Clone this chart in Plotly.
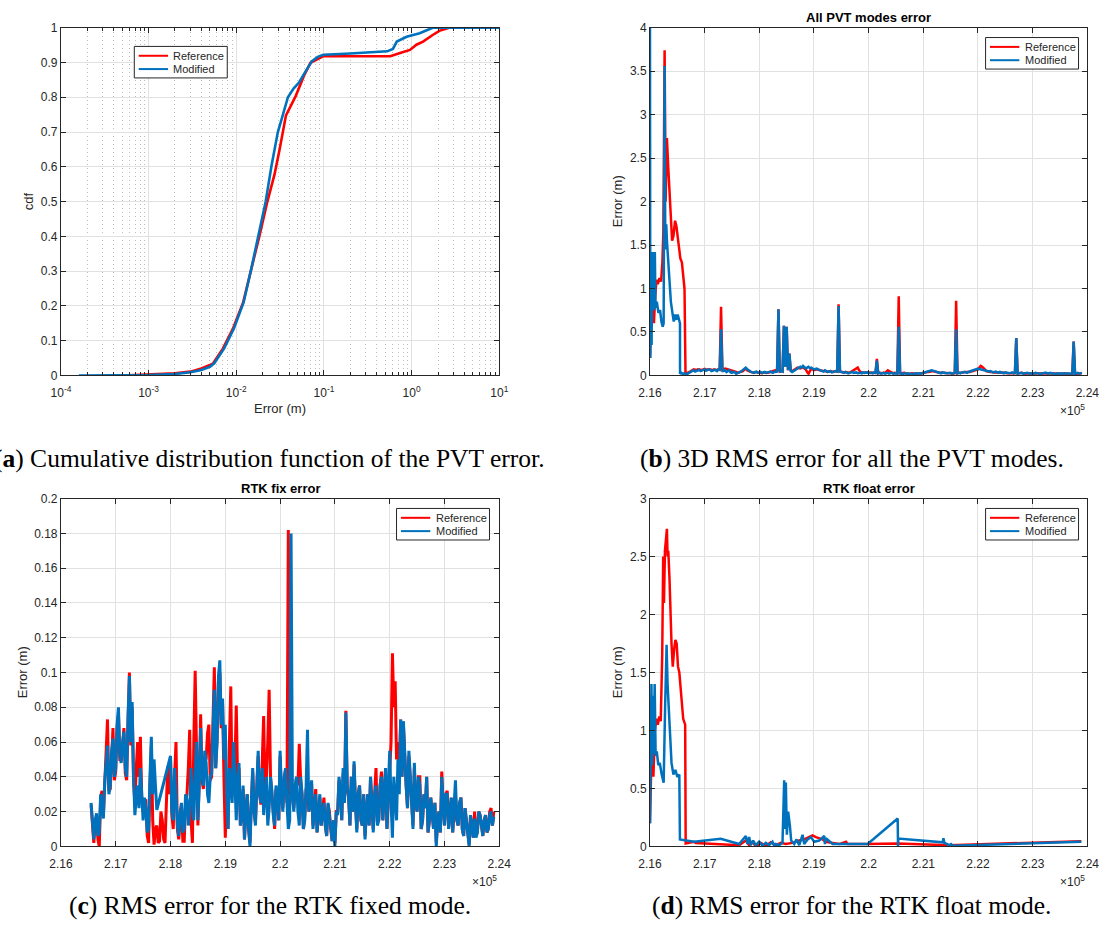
import plotly.graph_objects as go

# ------------------------------------------------------------------
# Data
# ------------------------------------------------------------------
# (a) empirical CDF of the PVT error (error in metres, cumulative probability)
cdf_ref_err = [5e-4, 1e-3, 2e-3, 3e-3, 4e-3, 5e-3, 0.00545, 0.00703, 0.00914, 0.01198,
               0.0147, 0.01833, 0.02264, 0.02731, 0.0312, 0.0369, 0.04775, 0.05904, 0.07015, 0.09865,
               0.2, 0.571, 0.739, 0.957, 1.136, 1.35, 1.74, 2.07, 2.68, 10]
cdf_ref_p = [0, 0.002, 0.006, 0.011, 0.02, 0.03, 0.035, 0.077, 0.134, 0.21,
             0.3, 0.4, 0.5, 0.578, 0.65, 0.748, 0.804, 0.861, 0.899, 0.918,
             0.918, 0.918, 0.927, 0.936, 0.951, 0.96, 0.979, 0.991, 1.0, 1.0]
cdf_mod_err = [1.6e-4, 5e-4, 1e-3, 2e-3, 3e-3, 4e-3, 5e-3, 0.00561, 0.00725, 0.00937,
               0.01213, 0.01463, 0.01795, 0.02166, 0.02512, 0.02981, 0.03388, 0.03882, 0.045, 0.05188,
               0.062, 0.07321, 0.085, 0.09865, 0.2, 0.525, 0.612, 0.678, 0.877, 1.236,
               1.74, 10]
cdf_mod_p = [0, 0, 0.001, 0.004, 0.009, 0.016, 0.025, 0.035, 0.077, 0.134,
             0.21, 0.3, 0.4, 0.5, 0.6, 0.7, 0.748, 0.8, 0.825, 0.842,
             0.875, 0.904, 0.916, 0.922, 0.926, 0.932, 0.939, 0.96, 0.974, 0.984,
             1.0, 1.0]

# Epochs (GPS time of week, s) after the initial float period, 25 s apart
epochs = [
    216550, 216575, 216600, 216625, 216650, 216675, 216700, 216725, 216750, 216775,
    216800, 216825, 216850, 216875, 216900, 216925, 216950, 216975, 217000, 217025,
    217050, 217075, 217100, 217125, 217150, 217175, 217200, 217225, 217250, 217275,
    217300, 217325, 217350, 217375, 217400, 217425, 217450, 217475, 217500, 217525,
    217550, 217575, 217600, 217625, 217650, 217675, 217700, 217725, 217750, 217775,
    217800, 217825, 217850, 217875, 217900, 217925, 217950, 217975, 218000, 218025,
    218050, 218075, 218100, 218125, 218150, 218175, 218200, 218225, 218250, 218275,
    218300, 218325, 218350, 218375, 218400, 218425, 218450, 218475, 218500, 218525,
    218550, 218575, 218600, 218625, 218650, 218675, 218700, 218725, 218750, 218775,
    218800, 218825, 218850, 218875, 218900, 218925, 218950, 218975, 219000, 219025,
    219050, 219075, 219100, 219125, 219150, 219175, 219200, 219225, 219250, 219275,
    219300, 219325, 219350, 219375, 219400, 219425, 219450, 219475, 219500, 219525,
    219550, 219575, 219600, 219625, 219650, 219675, 219700, 219725, 219750, 219775,
    219800, 219825, 219850, 219875, 219900, 219925, 219950, 219975, 220000, 220025,
    220050, 220075, 220100, 220125, 220150, 220175, 220200, 220225, 220250, 220275,
    220300, 220325, 220350, 220375, 220400, 220425, 220450, 220475, 220500, 220525,
    220550, 220575, 220600, 220625, 220650, 220675, 220700, 220725, 220750, 220775,
    220800, 220825, 220850, 220875, 220900, 220925, 220950, 220975, 221000, 221025,
    221050, 221075, 221100, 221125, 221150, 221175, 221200, 221225, 221250, 221275,
    221300, 221325, 221350, 221375, 221400, 221425, 221450, 221475, 221500, 221525,
    221550, 221575, 221600, 221625, 221650, 221675, 221700, 221725, 221750, 221775,
    221800, 221825, 221850, 221875, 221900, 221925, 221950, 221975, 222000, 222025,
    222050, 222075, 222100, 222125, 222150, 222175, 222200, 222225, 222250, 222275,
    222300, 222325, 222350, 222375, 222400, 222425, 222450, 222475, 222500, 222525,
    222550, 222575, 222600, 222625, 222650, 222675, 222700, 222725, 222750, 222775,
    222800, 222825, 222850, 222875, 222900, 222925, 222950, 222975, 223000, 223025,
    223050, 223075, 223100, 223125, 223150, 223175, 223200, 223225, 223250, 223275,
    223300, 223325, 223350, 223375, 223400, 223425, 223450, 223475, 223500, 223525,
    223550, 223575, 223600, 223625, 223650, 223675, 223700, 223725, 223750, 223775,
    223800, 223825, 223850, 223875, 223900,
]

# (c) RTK fix error (m), one value per epoch
fix_ref = [
    .024, .010, .002, .014, .017, .004, .000, .028, .032, .018, .036, .048, .073, .032, .033, .050, .068, .038, .043, .068,
    .076, .050, .050, .058, .068, .042, .038, .072, .100, .058, .080, .038, .025, .045, .060, .040, .063, .028, .020, .025,
    .027, .006, .002, .035, .058, .015, .001, .010, .012, .002, .003, .020, .015, .004, .002, .025, .046, .030, .050, .018,
    .010, .040, .060, .010, .004, .015, .022, .003, .003, .025, .030, .045, .067, .015, .002, .060, .101, .055, .012, .040,
    .076, .038, .033, .052, .050, .065, .070, .038, .040, .072, .103, .045, .062, .095, .100, .068, .082, .040, .005, .030,
    .010, .060, .092, .030, .058, .045, .081, .038, .045, .012, .018, .033, .004, .020, .030, .010, .002, .025, .043, .020,
    .014, .033, .052, .030, .024, .050, .075, .030, .040, .060, .090, .040, .030, .018, .010, .033, .030, .015, .052, .030,
    .022, .038, .044, .025, .182, .030, .030, .028, .022, .033, .040, .035, .059, .038, .030, .010, .018, .033, .035, .020,
    .025, .036, .012, .022, .033, .008, .018, .028, .012, .020, .028, .012, .006, .024, .020, .010, .003, .015, .002, .020,
    .020, .038, .032, .015, .042, .025, .078, .033, .028, .012, .040, .020, .047, .025, .010, .030, .035, .015, .012, .030,
    .006, .020, .030, .012, .040, .025, .010, .030, .045, .014, .015, .035, .043, .015, .030, .045, .010, .028, .040, .060,
    .111, .080, .095, .050, .060, .045, .073, .040, .070, .048, .035, .022, .052, .040, .028, .012, .045, .025, .020, .040,
    .040, .010, .015, .030, .022, .040, .008, .015, .028, .020, .010, .025, .002, .015, .020, .008, .043, .025, .012, .030,
    .032, .010, .018, .028, .008, .020, .030, .015, .012, .025, .028, .010, .006, .022, .015, .005, .001, .018, .012, .005,
    .020, .006, .008, .020, .018, .010, .006, .015, .018, .008, .010, .020, .022, .012, .020,
]
fix_mod = [
    .025, .012, .004, .015, .019, .006, .008, .030, .024, .016, .038, .050, .058, .030, .035, .055, .062, .040, .045, .070,
    .080, .052, .048, .060, .066, .045, .040, .075, .098, .060, .083, .040, .018, .028, .035, .022, .045, .030, .015, .028,
    .022, .008, .010, .040, .063, .030, .050, .035, .021, None, None, None, None, None, None, None, None, None, .052, .020,
    .015, .045, .030, .012, .006, .020, .025, .008, .010, .030, .027, .012, .018, .045, .030, .015, .040, .060, .015, .035,
    .068, .040, .035, .055, .048, .030, .025, .040, .042, .075, .090, .045, .060, .098, .107, .070, .085, .050, .070, .030,
    .010, .045, .035, .025, .060, .030, .015, .040, .048, .012, .020, .035, .004, .020, .030, .010, .000, .025, .045, .020,
    .012, .035, .055, .030, .025, .045, .018, .030, .040, .012, .022, .040, .032, .018, .012, .035, .030, .015, .055, .030,
    .020, .040, .045, .025, .010, .015, .180, .030, .020, .035, .040, .020, .012, .040, .030, .010, .015, .035, .067, .020,
    .025, .038, .010, .022, .030, .008, .018, .030, .012, .020, .025, .012, .006, .025, .018, .010, .003, .015, .000, .020,
    .018, .040, .032, .015, .045, .025, .077, .035, .028, .012, .040, .020, .049, .025, .008, .030, .035, .015, .012, .030,
    .004, .020, .030, .012, .040, .025, .008, .030, .035, .012, .015, .035, .040, .015, .030, .045, .010, .030, .055, .025,
    .005, .040, .030, .015, .050, .030, .073, .040, .072, .050, .035, .022, .055, .040, .028, .010, .048, .025, .020, .040,
    .035, .010, .015, .030, .022, .040, .008, .015, .028, .020, .010, .025, .000, .015, .020, .008, .040, .025, .012, .030,
    .030, .010, .018, .028, .008, .020, .038, .015, .012, .025, .028, .010, .006, .022, .015, .008, .000, .018, .012, .005,
    .016, .005, .008, .020, .018, .010, .006, .015, .018, .008, .010, .018, .020, .012, .017,
]

# (b) all PVT modes: start-up part, then one value per epoch
pvt_ref_head_t = [216000, 216012, 216030, 216054, 216072, 216095, 216119, 216143, 216173, 216203,
                  216227, 216245, 216268, 216286, 216310, 216334, 216358, 216382, 216405, 216429,
                  216459, 216483, 216507, 216531, 216555, 216584, 216614, 216632]
pvt_ref_head = [0.2, 0.45, 0.85, 0.8, 0.6, 0.9, 1.1, 1.05, 1.12, 1.08,
                1.3, 1.65, 3.74, 2.0, 2.73, 2.4, 2.1, 1.8, 1.55, 1.6,
                1.78, 1.72, 1.58, 1.45, 1.35, 1.3, 1.1, 1.0]
pvt_mod_head_t = [216000, 216006, 216018, 216030, 216042, 216054, 216066, 216078, 216089, 216101,
                  216125, 216155, 216185, 216209, 216233, 216250, 216268, 216280, 216298, 216310,
                  216328, 216352, 216382, 216411, 216435, 216459, 216483, 216507, 216531, 216549]
pvt_mod_head = [4.3, 0.2, 0.85, 0.35, 1.42, 0.8, 1.2, 0.75, 1.42, 0.78,
                0.85, 0.72, 0.75, 0.62, 0.56, 0.6, 3.56, 1.45, 1.74, 1.55,
                1.35, 1.1, 0.85, 0.72, 0.62, 0.7, 0.64, 0.7, 0.62, 0.6]
pvt_ref_tail = [
    None, None, None, None, .02, .025, .03, .04, .05, .06, .07, .065, .06, .07, .07, .065, .06, .07, .075, .07,
    .065, .07, .07, .065, .06, .07, .065, .06, .07, .065, .79, .07, .07, .08, .075, .07, .07, .065, .06, .055,
    .05, .04, .03, .035, .04, .045, .05, .065, .08, .06, .05, .045, .04, .035, .03, .035, .04, .035, .03, .03,
    .025, .03, .035, .03, .03, .035, .04, .045, .05, .055, .06, .05, .76, .045, .05, .045, .57, .1, .56, .06,
    .25, .06, .05, .06, .07, .08, .09, .085, .08, .09, .10, .08, .07, .04, .02, .05, .08, .07, .06, .065,
    .07, .065, .06, .055, .05, .05, .05, .045, .04, .045, .05, .045, .04, .045, .05, .045, .82, .045, .04, .035,
    .035, .04, .04, .035, .03, .04, .05, .055, .06, .075, .09, .06, .04, .035, .03, .035, .035, .03, .03, .03,
    .03, .03, .035, .03, .19, .025, .03, .025, .025, .03, .03, .045, .06, .05, .04, .03, .025, .03, .03, .025,
    .91, .025, .025, .03, .03, .025, .02, .02, .02, .025, .025, .02, .02, .025, .025, .02, .02, .025, .03, .035,
    .035, .04, .04, .045, .05, .05, .045, .04, .04, .035, .03, .03, .03, .03, .025, .025, .03, .03, .025, .02,
    .02, .025, .86, .025, .03, .03, .03, .035, .04, .04, .035, .035, .04, .045, .05, .055, .06, .065, .07, .09,
    .11, .1, .09, .07, .05, .045, .04, .04, .04, .035, .035, .035, .035, .03, .03, .03, .03, .03, .03, .025,
    .025, .03, .03, .025, .025, .025, .43, .025, .025, .03, .03, .025, .02, .02, .025, .025, .02, .02, .025, .02,
    .02, .025, .025, .02, .02, .025, .025, .02, .02, .02, .02, .025, .025, .02, .02, .02, .02, .025, .025, .02,
    .02, .02, .02, .02, .02, .02, .02, .02, .39, .02, .02, .02, .02, .02, .025,
]
pvt_mod_tail = [
    .02, .03, .015, .025, .02, .012, .025, .035, .04, .05, .06, .045, .05, .06, .065, .05, .055, .065, .07, .055,
    .06, .07, .065, .05, .055, .065, .06, .05, .07, .06, .53, .05, .05, .06, .04, .05, .06, .035, .03, .04,
    .035, .02, .025, .035, .04, .05, .06, .07, .09, .075, .06, .05, .04, .035, .03, .04, .045, .03, .035, .04,
    .03, .035, .04, .03, .035, .04, .045, .035, .03, .045, .04, .045, .76, .04, .05, .045, .57, .1, .56, .06,
    .25, .05, .04, .05, .06, .08, .09, .1, .10, .09, .11, .095, .08, .09, .10, .085, .09, .08, .07, .075,
    .08, .07, .06, .055, .05, .045, .06, .05, .04, .045, .05, .035, .04, .045, .05, .045, .80, .045, .04, .035,
    .03, .04, .035, .025, .03, .035, .04, .03, .03, .035, .025, .03, .03, .025, .035, .03, .03, .035, .025, .03,
    .03, .025, .035, .03, .17, .025, .03, .02, .025, .03, .02, .025, .03, .02, .025, .03, .02, .025, .025, .02,
    .56, .025, .02, .015, .025, .02, .02, .025, .015, .02, .02, .015, .025, .02, .02, .025, .02, .025, .03, .035,
    .04, .045, .05, .055, .06, .055, .05, .045, .04, .035, .03, .025, .035, .03, .03, .025, .025, .03, .03, .02,
    .025, .03, .53, .025, .03, .025, .035, .04, .04, .035, .03, .04, .045, .05, .06, .065, .07, .075, .08, .075,
    .07, .065, .06, .055, .05, .045, .045, .05, .04, .035, .04, .045, .035, .03, .04, .035, .03, .025, .035, .03,
    .03, .025, .03, .035, .025, .03, .43, .02, .025, .03, .03, .02, .025, .03, .03, .025, .02, .025, .025, .02,
    .03, .025, .025, .02, .02, .025, .025, .03, .03, .02, .025, .03, .02, .025, .02, .015, .025, .02, .02, .025,
    .02, .025, .025, .02, .02, .025, .02, .02, .39, .02, .025, .03, .02, .025, .03,
]

# (d) RTK float error (m)
float_ref_t = [216000, 216014, 216036, 216063, 216089, 216116, 216143, 216170, 216197, 216224,
               216242, 216256, 216274, 216310, 216322, 216335, 216358, 216394, 216417, 216442,
               216465, 216488, 216513, 216537, 216572, 216608, 216644, 216653, 216806, 216837,
               217631, 217753, 217814, 217875, 217936, 218027, 218119, 218211, 218302, 218394,
               218485, 218607, 218730, 218821, 218974, 219035, 219157, 219218, 219340, 219463,
               219585, 219615, 219951, 220531, 220806, 221478, 223890]
float_ref = [0.2, 0.6, 0.95, 0.6, 1.0, 1.1, 1.05, 1.12, 1.08, 1.65,
             2.5, 2.1, 2.55, 2.74, 2.5, 2.55, 2.3, 1.75, 1.55, 1.7,
             1.78, 1.75, 1.55, 1.5, 1.3, 1.1, 1.05, 0.025, 0.04, 0.03,
             0.01, 0.05, 0.01, 0.04, 0.0, 0.03, 0.005, 0.035, 0.01, 0.03,
             0.02, 0.03, 0.05, 0.06, 0.095, 0.08, 0.06, 0.04, 0.03, 0.02,
             0.04, 0.02, 0.02, 0.025, 0.02, 0.01, 0.045]
float_mod_t = [216000, 216009, 216027, 216039, 216054, 216068, 216086, 216104, 216125, 216152,
               216179, 216215, 216250, 216277, 216304, 216322, 216340, 216367, 216394, 216429,
               216465, 216501, 216537, 216548, 216806, 217295, 217631, 217753, 217783, 217814,
               217844, 217887, 217936, 217997, 218058, 218119, 218180, 218241, 218272, 218302,
               218363, 218424, 218455, 218467, 218485, 218504, 218528, 218559, 218583, 218638,
               218681, 218730, 218791, 218821, 218882, 218943, 219005, 219096, 219188, 219200,
               219218, 219340, 219982, 220531, 220537, 220543, 221356, 221368, 221386, 221478,
               221508, 221539, 223890]
float_mod = [0.2, 0.9, 1.4, 0.7, 1.3, 0.8, 1.4, 0.78, 0.82, 0.7,
             0.72, 0.62, 0.55, 1.2, 1.74, 1.4, 1.2, 0.9, 0.72, 0.62,
             0.66, 0.6, 0.62, 0.06, 0.04, 0.065, 0.02, 0.09, 0.02, 0.08,
             0.01, 0.05, 0.01, 0.04, 0.005, 0.03, 0.01, 0.04, 0.005, 0.02,
             0.01, 0.03, 0.57, 0.15, 0.55, 0.1, 0.3, 0.18, 0.05, 0.02,
             0.06, 0.01, 0.1, 0.02, 0.06, 0.08, 0.04, 0.05, 0.09, 0.02,
             0.07, 0.02, 0.02, 0.24, 0.0, 0.068, 0.035, 0.07, 0.03, 0.01,
             0.02, 0.005, 0.04]

# Tick labels
cdf_tick_vals = [1e-4, 1e-3, 1e-2, 1e-1, 1e0, 1e1]
cdf_tick_text = ["10<sup>-4</sup>", "10<sup>-3</sup>", "10<sup>-2</sup>",
                 "10<sup>-1</sup>", "10<sup>0</sup>", "10<sup>1</sup>"]
time_tick_vals = [216000, 217000, 218000, 219000, 220000, 221000, 222000, 223000, 224000]
time_tick_text = ["2.16", "2.17", "2.18", "2.19", "2.2", "2.21", "2.22", "2.23", "2.24"]

# ------------------------------------------------------------------
# Styling helpers
# ------------------------------------------------------------------
W, H = 1115, 945
RED = "#ff0000"
BLUE = "#0072bd"
AX = "#262626"
GRID = "#e1e1e1"
SANS = "Liberation Sans, Arial, sans-serif"
SERIF = "Liberation Serif, Times New Roman, serif"


def px(x):
    return x / W


def py(y):
    return 1 - y / H


# plot rectangles in pixels: (left, top, right, bottom)
BOX_A = (50, 21, 498, 374)
BOX_B = (652, 21, 1099, 374)
BOX_C = (50, 499, 498, 852)
BOX_D = (652, 499, 1099, 852)


def xdom(b):
    return [px(b[0]), px(b[2])]


def ydom(b):
    return [py(b[3]), py(b[1])]


common = dict(
    showline=True, linecolor=AX, linewidth=1, mirror="ticks",
    ticks="inside", ticklen=5, tickwidth=1, tickcolor=AX,
    showgrid=True, gridcolor=GRID, gridwidth=1, zeroline=False,
    tickfont=dict(family=SANS, size=12, color=AX), fixedrange=True,
)

minor_cdf = [m * 10.0 ** e for e in range(-4, 1) for m in range(2, 10)]


def time_axis(box, anchor):
    return dict(domain=xdom(box), anchor=anchor, range=[216000, 224000],
                tickmode="array", tickvals=time_tick_vals, ticktext=time_tick_text,
                ticklabelstandoff=6, **common)


def value_axis(box, anchor, top, step_vals, step_text):
    return dict(domain=ydom(box), anchor=anchor, range=[0, top],
                tickmode="array", tickvals=step_vals, ticktext=step_text, **common)


def fmt(v):
    s = f"{v:.2f}".rstrip("0").rstrip(".")
    return s if s else "0"


y_a = [i / 10 for i in range(11)]
y_b = [i / 2 for i in range(9)]
y_c = [i / 50 for i in range(11)]
y_d = [i / 2 for i in range(7)]

fig = go.Figure()

# (a) CDF
fig.add_trace(go.Scatter(x=cdf_ref_err, y=cdf_ref_p, mode="lines", name="Reference",
                         line=dict(color=RED, width=2.6), xaxis="x", yaxis="y"))
fig.add_trace(go.Scatter(x=cdf_mod_err, y=cdf_mod_p, mode="lines", name="Modified",
                         line=dict(color=BLUE, width=2.6), xaxis="x", yaxis="y"))

# (b) all PVT modes
fig.add_trace(go.Scatter(x=pvt_ref_head_t + epochs, y=pvt_ref_head + pvt_ref_tail, mode="lines",
                         name="Reference", connectgaps=True,
                         line=dict(color=RED, width=2.5), xaxis="x2", yaxis="y2"))
fig.add_trace(go.Scatter(x=pvt_mod_head_t + epochs, y=pvt_mod_head + pvt_mod_tail, mode="lines",
                         name="Modified", connectgaps=True,
                         line=dict(color=BLUE, width=2.5), xaxis="x2", yaxis="y2"))

# (c) RTK fix
fig.add_trace(go.Scatter(x=epochs, y=fix_ref, mode="lines", name="Reference",
                         line=dict(color=RED, width=3.0), xaxis="x3", yaxis="y3"))
fig.add_trace(go.Scatter(x=epochs, y=fix_mod, mode="lines", name="Modified", connectgaps=True,
                         line=dict(color=BLUE, width=3.0), xaxis="x3", yaxis="y3"))

# (d) RTK float
fig.add_trace(go.Scatter(x=float_ref_t, y=float_ref, mode="lines", name="Reference",
                         line=dict(color=RED, width=2.5), xaxis="x4", yaxis="y4"))
fig.add_trace(go.Scatter(x=float_mod_t, y=float_mod, mode="lines", name="Modified",
                         line=dict(color=BLUE, width=2.5), xaxis="x4", yaxis="y4"))

fig.update_layout(
    width=W, height=H, margin=dict(l=0, r=0, t=0, b=0),
    paper_bgcolor="white", plot_bgcolor="white", showlegend=False,
    xaxis=dict(domain=xdom(BOX_A), anchor="y", type="log", range=[-4, 1],
               tickmode="array", tickvals=cdf_tick_vals, ticktext=cdf_tick_text,
               ticklabelstandoff=6,
               minor=dict(tickmode="array", tickvals=minor_cdf, ticks="inside", ticklen=3,
                          tickcolor=AX, showgrid=True, gridcolor="#bdbdbd", griddash="1px,3px",
                          gridwidth=1),
               **common),
    yaxis=value_axis(BOX_A, "x", 1, y_a, [fmt(v) for v in y_a]),
    xaxis2=time_axis(BOX_B, "y2"),
    yaxis2=value_axis(BOX_B, "x2", 4, y_b, [fmt(v) for v in y_b]),
    xaxis3=time_axis(BOX_C, "y3"),
    yaxis3=value_axis(BOX_C, "x3", 0.2, y_c, [fmt(v) for v in y_c]),
    xaxis4=time_axis(BOX_D, "y4"),
    yaxis4=value_axis(BOX_D, "x4", 3, y_d, [fmt(v) for v in y_d]),
)

annotations = []
shapes = []


def text(s, x, y, size=13, angle=0, xanchor="center", family=SANS, color=AX):
    annotations.append(dict(text=s, x=px(x), y=py(y), xref="paper", yref="paper",
                            xanchor=xanchor, yanchor="middle", showarrow=False, textangle=angle,
                            font=dict(family=family, size=size, color=color)))


# subplot titles
text("<b>All PVT modes error</b>", 875.5, 11, size=13, color="#000000")
text("<b>RTK fix error</b>", 274, 489, size=13, color="#000000")
text("<b>RTK float error</b>", 875.5, 489, size=13, color="#000000")

# axis titles
text("Error (m)", 274, 408)
text("cdf", 17, 197.5, angle=-90)
text("Error (m)", 619, 197.5, angle=-90)
text("Error (m)", 11, 675.5, angle=-90)
text("Error (m)", 619, 675.5, angle=-90)

# exponent labels of the time axes
text("\u00d710<sup>5</sup>", 1099, 409, size=12, xanchor="right")
text("\u00d710<sup>5</sup>", 498, 887, size=12, xanchor="right")
text("\u00d710<sup>5</sup>", 1099, 887, size=12, xanchor="right")

# captions
CAP = 25.5
text("(<b>a</b>) Cumulative distribution function of the PVT error.", 263.5, 458,
     size=CAP, family=SERIF, color="#000000")
text("(<b>b</b>) 3D RMS error for all the PVT modes.", 858, 458,
     size=CAP, family=SERIF, color="#000000")
text("(<b>c</b>) RMS error for the RTK fixed mode.", 263.5, 912,
     size=CAP, family=SERIF, color="#000000")
text("(<b>d</b>) RMS error for the RTK float mode.", 858, 912,
     size=CAP, family=SERIF, color="#000000")


# legend boxes
def legend_box(x0, y0):
    x1, y1 = x0 + 95, y0 + 32
    shapes.append(dict(type="rect", xref="paper", yref="paper",
                       x0=px(x0), x1=px(x1), y0=py(y1), y1=py(y0),
                       line=dict(color=AX, width=1), fillcolor="white", layer="above"))
    for k, (col, name) in enumerate([(RED, "Reference"), (BLUE, "Modified")]):
        yy = y0 + 9.5 + 13.5 * k
        shapes.append(dict(type="line", xref="paper", yref="paper",
                           x0=px(x0 + 4.5), x1=px(x0 + 34.5), y0=py(yy), y1=py(yy),
                           line=dict(color=col, width=2), layer="above"))
        text(name, x0 + 38, yy, size=11, xanchor="left")


legend_box(125, 40)
legend_box(995, 31)
legend_box(393, 509)
legend_box(995, 509)

fig.update_layout(annotations=annotations, shapes=shapes)
fig.write_html("out.html")
